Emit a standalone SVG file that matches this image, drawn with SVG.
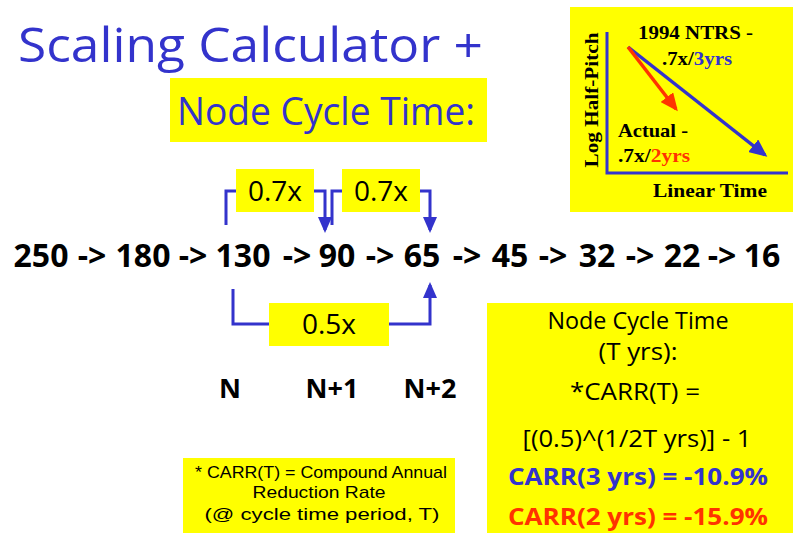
<svg xmlns="http://www.w3.org/2000/svg" width="796" height="533" viewBox="0 0 796 533">
<defs>
<style>
.c{font-family:"Open Sans","Liberation Sans",sans-serif}
.l{font-family:"Liberation Sans","Arial",sans-serif}
.s{font-family:"Liberation Serif","DejaVu Serif",serif;font-weight:bold}
.blue{fill:#3333cc}
.red{fill:#ff3300}
.yb{fill:#ffff00}
.num{font-size:32px;font-weight:bold;text-anchor:middle;fill:#000}
.lbl{font-size:28px;text-anchor:middle;fill:#000}
.conn{fill:none;stroke:#3333cc;stroke-width:3}
</style>
<marker id="ah" viewBox="0 0 16 14" refX="13" refY="7" markerWidth="16" markerHeight="14" markerUnits="userSpaceOnUse" orient="auto">
<path d="M0,0 L16,7 L0,14 z" fill="#3333cc"/>
</marker>
<marker id="ahb" viewBox="0 0 18 16" refX="15" refY="8" markerWidth="18" markerHeight="16" markerUnits="userSpaceOnUse" orient="auto">
<path d="M0,0 L18,8 L0,16 z" fill="#3333cc"/>
</marker>
<marker id="ahr" viewBox="0 0 18 16" refX="15" refY="8" markerWidth="18" markerHeight="16" markerUnits="userSpaceOnUse" orient="auto">
<path d="M0,0 L18,8 L0,16 z" fill="#ff3300"/>
</marker>
</defs>
<rect width="796" height="533" fill="#fff"/>

<g id="title">
<text class="c blue" x="18" y="62" font-size="47" textLength="465" lengthAdjust="spacingAndGlyphs">Scaling Calculator +</text>
</g>
<g id="subtitle">
<rect class="yb" x="170" y="78" width="317" height="64"/>
<text class="c blue" x="177" y="125" font-size="38" textLength="298" lengthAdjust="spacingAndGlyphs">Node Cycle Time:</text>
</g>

<g id="connectors">
<path class="conn" d="M226,225 V191 H325 V230" marker-end="url(#ah)"/>
<path class="conn" d="M332,225 V191 H430 V230" marker-end="url(#ah)"/>
<path class="conn" d="M233,289 V324 H430 V285" marker-end="url(#ah)"/>
</g>

<g id="label-07x-1">
<rect class="yb" x="236" y="169" width="78" height="43"/>
<text class="c lbl" x="275" y="201">0.7x</text>
</g>
<g id="label-07x-2">
<rect class="yb" x="342" y="169" width="78" height="43"/>
<text class="c lbl" x="381" y="201">0.7x</text>
</g>
<g id="label-05x">
<rect class="yb" x="269" y="303" width="120" height="43"/>
<text class="c lbl" x="329" y="334">0.5x</text>
</g>

<g id="sequence" class="c">
<g id="n250"><text class="num" x="41" y="267">250</text></g>
<text class="num" x="92" y="267">-&gt;</text>
<g id="n180"><text class="num" x="143" y="267">180</text></g>
<text class="num" x="193" y="267">-&gt;</text>
<g id="n130"><text class="num" x="243" y="267">130</text></g>
<text class="num" x="297" y="267">-&gt;</text>
<g id="n90"><text class="num" x="337" y="267">90</text></g>
<text class="num" x="380" y="267">-&gt;</text>
<g id="n65"><text class="num" x="422" y="267">65</text></g>
<text class="num" x="467" y="267">-&gt;</text>
<g id="n45"><text class="num" x="510" y="267">45</text></g>
<text class="num" x="553" y="267">-&gt;</text>
<g id="n32"><text class="num" x="597" y="267">32</text></g>
<text class="num" x="640" y="267">-&gt;</text>
<g id="n22"><text class="num" x="682" y="267">22</text></g>
<text class="num" x="722" y="267">-&gt;</text>
<g id="n16"><text class="num" x="762" y="267">16</text></g>
</g>

<g id="gen-labels" class="c" font-size="27" font-weight="bold" text-anchor="middle">
<text x="230" y="398">N</text>
<text x="332" y="398">N+1</text>
<text x="430" y="398">N+2</text>
</g>

<g id="chart">
<rect class="yb" x="570" y="7" width="223" height="205"/>
<path d="M607,32 V173 H788" fill="none" stroke="#3333cc" stroke-width="3"/>
<line x1="628" y1="47" x2="765" y2="155" stroke="#3333cc" stroke-width="3.5" marker-end="url(#ahb)"/>
<line x1="628" y1="47" x2="676" y2="109" stroke="#ff3300" stroke-width="3.5" marker-end="url(#ahr)"/>
<text class="s" x="638" y="39" font-size="19" textLength="115" lengthAdjust="spacingAndGlyphs">1994 NTRS -</text>
<text class="s" x="662" y="65" font-size="19" textLength="70" lengthAdjust="spacingAndGlyphs">.7x/<tspan class="blue">3yrs</tspan></text>
<text class="s" x="618" y="137" font-size="19" textLength="70" lengthAdjust="spacingAndGlyphs">Actual -</text>
<text class="s" x="618" y="162" font-size="19" textLength="72" lengthAdjust="spacingAndGlyphs">.7x/<tspan class="red">2yrs</tspan></text>
<text class="s" x="653" y="197" font-size="19" textLength="114" lengthAdjust="spacingAndGlyphs">Linear Time</text>
<text class="s" transform="translate(598,100) rotate(-90)" x="0" y="0" font-size="18" text-anchor="middle" textLength="135" lengthAdjust="spacingAndGlyphs">Log Half-Pitch</text>
</g>

<g id="formula" class="c" font-size="23" text-anchor="middle">
<rect class="yb" x="487" y="303" width="306" height="230"/>
<text x="638" y="329" textLength="181" lengthAdjust="spacingAndGlyphs">Node Cycle Time</text>
<text x="638" y="360" textLength="79" lengthAdjust="spacingAndGlyphs">(T yrs):</text>
<text x="635" y="400" textLength="130" lengthAdjust="spacingAndGlyphs">*CARR(T) =</text>
<text x="637" y="447" textLength="229" lengthAdjust="spacingAndGlyphs">[(0.5)^(1/2T yrs)] - 1</text>
<text class="blue" x="638" y="485" font-weight="bold" textLength="260" lengthAdjust="spacingAndGlyphs">CARR(3 yrs) = -10.9%</text>
<text class="red" x="638" y="525" font-weight="bold" textLength="260" lengthAdjust="spacingAndGlyphs">CARR(2 yrs) = -15.9%</text>
</g>

<g id="footnote" class="l" font-size="17" text-anchor="middle">
<rect class="yb" x="183" y="458" width="272" height="75"/>
<text x="321" y="478" textLength="252" lengthAdjust="spacingAndGlyphs">* CARR(T) = Compound Annual</text>
<text x="319" y="498" textLength="133" lengthAdjust="spacingAndGlyphs">Reduction Rate</text>
<text x="322" y="520" textLength="235" lengthAdjust="spacingAndGlyphs">(@ cycle time period, T)</text>
</g>
</svg>
